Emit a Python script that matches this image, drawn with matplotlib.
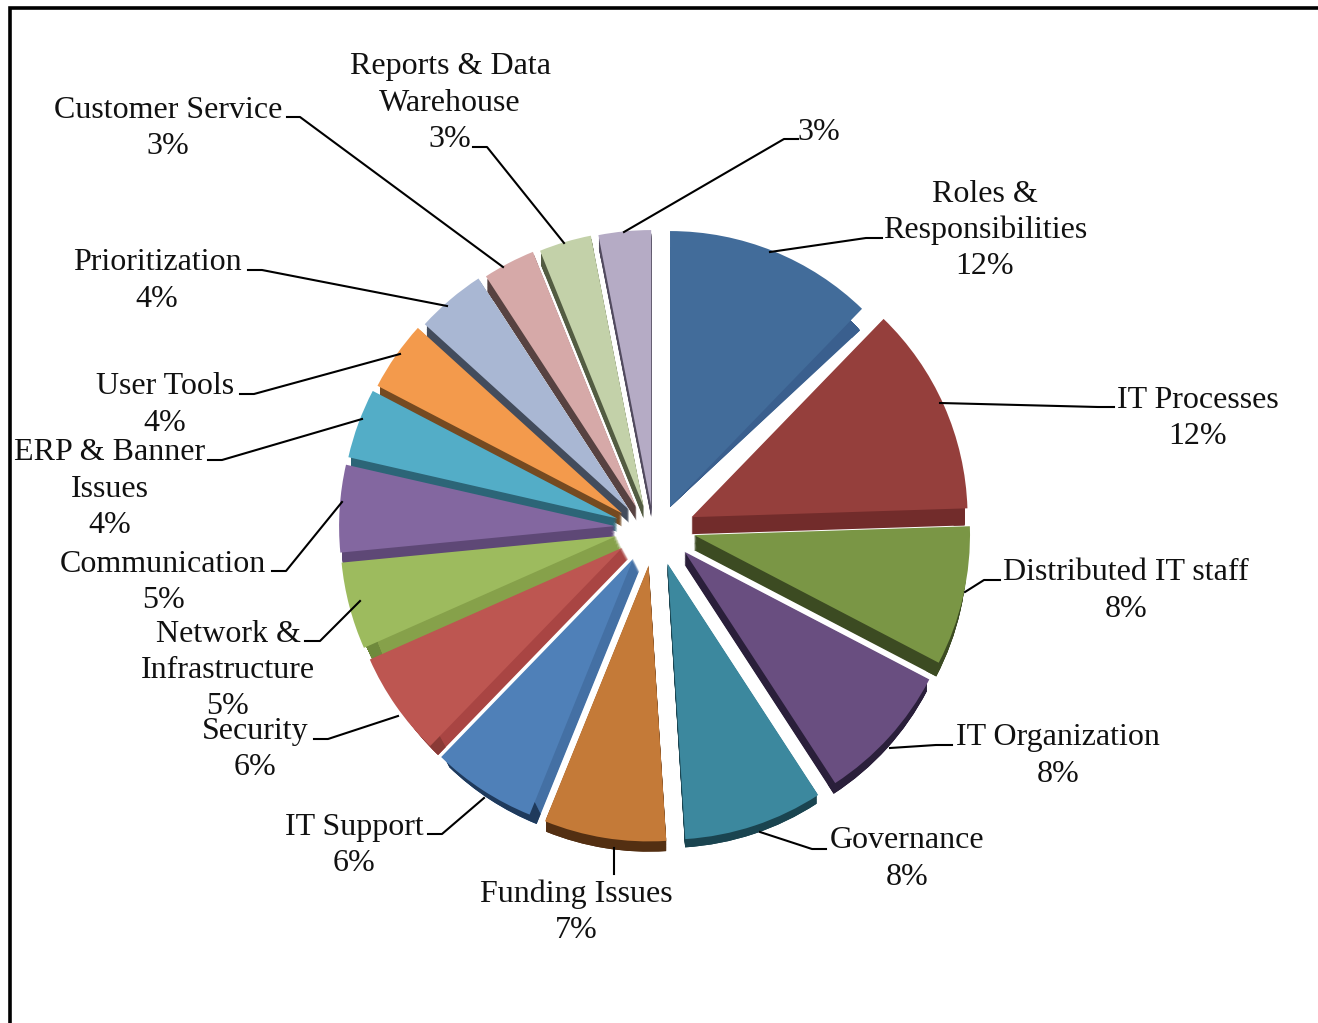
import math
import matplotlib
matplotlib.use("Agg")
import matplotlib.pyplot as plt

# Survey results: share of responses by topic, clockwise from the top.
categories = ["Roles & Responsibilities", "IT Processes", "Distributed IT staff",
              "IT Organization", "Governance", "Funding Issues", "IT Support",
              "Security", "Network & Infrastructure", "Communication",
              "ERP & Banner Issues", "User Tools", "Prioritization",
              "Customer Service", "Reports & Data Warehouse", ""]
shares = [12, 12, 8, 8, 8, 7, 6, 6, 5, 5, 4, 4, 4, 3, 3, 3]
face_colors = ["#426C9A", "#953F3C", "#7A9645", "#694E80", "#3C889E", "#C47A38",
               "#4F80B8", "#BD5651", "#9DBB5E", "#8367A0", "#53ADC7", "#F39A4C",
               "#A9B7D3", "#D6A9A8", "#C3D1A9", "#B5ABC5"]
wall_colors = ["#3A5F8E", "#722C2B", "#3C4B22", "#2A1F3A", "#1A4450", "#532F12",
               "#4470A4", "#A94543", "#86A14A", "#5E4876", "#2C6577", "#754A21",
               "#434C5C", "#574241", "#535C42", "#524B5F"]
rim_colors = ["#3A5F8E", "#722C2B", "#3C4B22", "#2A1F3A", "#1A4450", "#532F12",
              "#1F3A5C", "#8A3A36", "#6F8A3C", "#5E4876", "#2C6577", "#754A21",
              "#434C5C", "#574241", "#535C42", "#524B5F"]
wall_depths = [0, 17, 15, 13, 11, 13, 12, 11, 13, 13, 13, 13, 13, 13, 12, 11]

W, H = 1318, 1023
CX, CY, R = 655, 536, 276
SHIFT_X, SHIFT_Y, TILT = 40, 30, 8
STEPS = 17

fig = plt.figure(figsize=(W / 100, H / 100), dpi=100)
ax = fig.add_axes([0, 0, 1, 1])


def slice_offset(wedge):
    """Exploded position of a slice, in radius units; wider across than down."""
    mid = math.radians((wedge.theta1 + wedge.theta2) / 2)
    c, s = math.cos(mid), math.sin(mid)
    return c, s, (SHIFT_X * c) / R, (SHIFT_Y * s + TILT * c * c) / R


def draw_ring(colors, step, radius, width=None):
    props = {"linewidth": 0}
    if width:
        props["width"] = width
    wedges, _ = ax.pie(shares, colors=colors, startangle=90, counterclock=False,
                       radius=radius, wedgeprops=props)
    for i, wedge in enumerate(wedges):
        c, s, dx, dy = slice_offset(wedge)
        depth = wall_depths[i] * step / STEPS
        # Lower-left slices show a little of their right-hand cut wall.
        lean = 6 * step / STEPS if (c < -0.4 and s < 0) else 0.0
        wedge.set_center((dx + lean / R, dy - depth / R))
        if wall_depths[i] == 0 and step > 0:
            # The first slice leans over its lower cut edge instead of dropping.
            wedge.set_radius(0.94)
            wedge.set_theta1(wedge.theta1 - 3 * step / STEPS)


# Extruded sides: dark repeats stepping downward, rims over walls, faces on top.
for step in range(STEPS, 0, -1):
    draw_ring(wall_colors, step, 0.99)
for step in range(STEPS, 0, -1):
    draw_ring(rim_colors, step, 0.99, width=0.04)
draw_ring(face_colors, 0, 1.0)

ax.set_aspect("auto")
ax.set_xlim(-CX / R, (W - CX) / R)
ax.set_ylim(-(H - CY) / R, CY / R)
ax.axis("off")


def px(x, y):
    return x / W, 1 - y / H


labels = [
    (985, ["Roles &", "Responsibilities", "12%"], 191),
    (1198, ["IT Processes", "12%"], 397),
    (1126, ["Distributed IT staff", "8%"], 570),
    (1058, ["IT Organization", "8%"], 735),
    (907, ["Governance", "8%"], 838),
    (576, ["Funding Issues", "7%"], 891),
    (354, ["IT Support", "6%"], 824),
    (255, ["Security", "6%"], 728),
    (228, ["Network &", "Infrastructure", "5%"], 631),
    (163, ["Communication", "5%"], 561),
    (110, ["ERP & Banner", "Issues", "4%"], 450),
    (165, ["User Tools", "4%"], 384),
    (157, ["Prioritization", "4%"], 260),
    (168, ["Customer Service", "3%"], 107),
    (450, ["Reports & Data", "Warehouse", "3%"], 64),
    (819, ["3%"], 129),
]
for x, lines, y0 in labels:
    for i, line in enumerate(lines):
        fx, fy = px(x, y0 + 3 + i * 36.4)
        fig.text(fx, fy, line, ha="center", va="center", color="#111111",
                 family="Liberation Serif", fontsize=23)

leaders = [
    [(770, 252), (866, 238), (882, 238)],
    [(940, 403), (1098, 407), (1114, 407)],
    [(965, 592), (984, 580), (1000, 580)],
    [(890, 748), (936, 745), (952, 745)],
    [(760, 832), (812, 849), (826, 849)],
    [(614, 848), (614, 874)],
    [(484, 798), (442, 834), (428, 834)],
    [(398, 716), (328, 739), (314, 739)],
    [(360, 601), (320, 641), (305, 641)],
    [(342, 502), (286, 571), (272, 571)],
    [(362, 419), (222, 460), (208, 460)],
    [(400, 354), (254, 394), (240, 394)],
    [(447, 306), (262, 270), (248, 270)],
    [(503, 267), (300, 117), (287, 117)],
    [(564, 243), (487, 147), (473, 147)],
    [(624, 232), (784, 139), (798, 139)],
]
for pts in leaders:
    xs, ys = zip(*[px(*p) for p in pts])
    fig.add_artist(plt.Line2D(xs, ys, color="black", lw=1.5))

# Heavy rule along the top and left sides of the plot area.
xs, ys = zip(*[px(9.5, H), px(9.5, 8), px(W, 8)])
fig.add_artist(plt.Line2D(xs, ys, color="black", lw=2.6, solid_joinstyle="miter"))

fig.savefig("out.png", dpi=100, facecolor="white")
